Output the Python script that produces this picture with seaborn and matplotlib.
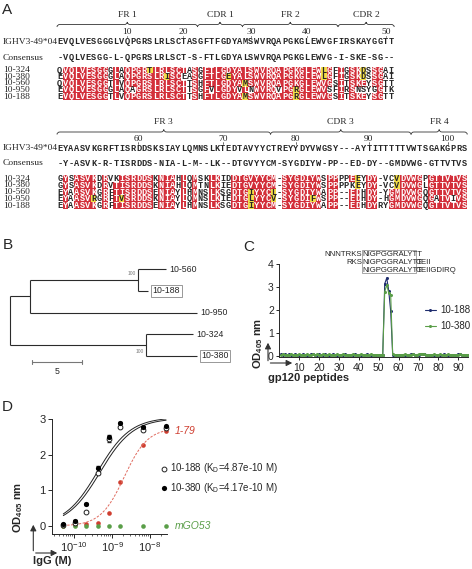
import numpy as np
import pandas as pd
import matplotlib
matplotlib.use('Agg')
import matplotlib.pyplot as plt
import seaborn as sns
from matplotlib.colors import ListedColormap
from matplotlib.path import Path
from matplotlib.patches import PathPatch, Rectangle

sns.set_style('ticks')
plt.rcParams['font.family'] = ['Liberation Sans', 'DejaVu Sans']
plt.rcParams['mathtext.default'] = 'regular'

# ---------------- data: panel A (alignment) ----------------
names = ['10-324', '10-380', '10-560', '10-950', '10-188']

germ1 = 'EVQLVESGGGLVQPGRSLRLSCTASGFTFGDYAMSWVRQAPGKGLEWVGFIRSKAYGGTT'
cons1 = '-VQLVESGG-L-QPGRSLRLSCT-S-FTLGDYALSWVRQAPGKGLEWVG-I-SKE-SG--'
seqs1 = ['QVQLVESGGGLAQPGRTLRLSCTASGFTLGDYALSWVRQAPGKGLEWLGFIGSKDSSGAI',
         'EVQLVESGGGLAQPGRSLRISCEASGFTLGEYALSWVRQAPGKGLEWLGFIGSKDSSGAI',
         'QVQLVESGGTLVQPGRSLRLSCTTSHFTLGDYAMSWVRQAPGKGLEWVGSITSKEYSGTT',
         'EVQLVESGGGLAQAGRSLRLSCTTSGFVLGDYVLNWVRQVPGRGLEWVSFIRSNSYGGTK',
         'EVQLVESGGTLVQPGRSLRLSCTTSHFTLGDYAMSWVRQAPGRGLEWVGSITSKEYSGTT']
yellow1 = {0: [17, 48, 55], 1: [20, 31, 48, 55], 2: [34], 3: [43], 4: [34, 43]}
ticks1 = [(10, 13), (20, 23), (30, 35), (40, 45), (50, 59)]
regions1 = [('FR 1', 1, 25), ('CDR 1', 26, 33), ('FR 2', 34, 50), ('CDR 2', 51, 60)]

germ2 = 'EYAASVKGRFTISRDDSKSIAYLQMNSLKTEDTAVYYCTREYYDYVWGSY---AYTITTTTTVWTSGAKGPRS'
cons2 = '-Y-ASVK-R-TISRDDS-NIA-L-M--LK--DTGVYYCM-SYGDIYW-PP--ED-DY--GMDVWG-GTTVTVS'
seqs2 = ['GYSASVKDRVKISRDDSKNIAHLQMSKLKIDDTGVYYCM-SYGDIYWSPPPPEEYDY-VCVDVWGPGTTVTVS',
         'GYSASVKDRVTISRDDSKNIAHLQMTNLKIEDTGVYYCM-SYGDIYWSPPPPKEYDY-VCVDVWGLGTTVTVS',
         'EYAASVKGRFTISRDDSENIAYLHMNSLKSGDTGIYYCL-SYGDIYWAPP--EDHDY-YGMDVWGQGTTVTVS',
         'EYAASVRGRFTVSRDDSKNIAYLQMNSLKIEDTGLYYCV-SYGDIFWSPP--EDHDY-HGMDVWGQGATVIVS',
         'EYAASVKGRFTISRDDSENIAYLHMNSLKSGDTGIYYCM-SYGDIYWAPP--EDHDYRYGMDVWGQGTTVTVS']
yellow2 = {0: [54, 61], 1: [54, 61], 2: [35, 39], 3: [7, 12, 35, 39, 46], 4: [35]}
ticks2 = [(60, 15), (70, 30), (80, 43), (90, 56), (100, 70)]
regions2 = [('FR 3', 1, 38), ('CDR 3', 39, 63), ('FR 4', 64, 73)]

# ---------------- data: panel B (tree) ----------------
leaf_order = ['10-560', '10-188', '10-950', '10-324', '10-380']
boxed = ['10-188', '10-380']
# internal node = (branch length, children, bootstrap); leaf = (name, branch length)
tree = (0.0, [(2.0, [(11.0, [('10-560', 2.8), ('10-188', 1.0)], (100, 'top')),
                     ('10-950', 16.9)], None),
              (13.8, [('10-324', 4.75), ('10-380', 5.1)], (100, 'bottom'))], None)
scale_len = 5

# ---------------- data: panel C (peptide ELISA) ----------------
peptides = list(range(1, 96))
od_188 = [0.06, 0.05, 0.06, 0.05, 0.06, 0.05, 0.05, 0.06, 0.05, 0.05,
          0.05, 0.06, 0.05, 0.05, 0.05, 0.06, 0.07, 0.05, 0.05, 0.06,
          0.05, 0.05, 0.06, 0.05, 0.05, 0.05, 0.06, 0.05, 0.05, 0.05,
          0.05, 0.05, 0.06, 0.05, 0.05, 0.05, 0.05, 0.06, 0.05, 0.05,
          0.05, 0.05, 0.05, 0.06, 0.05, 0.05, 0.05, 0.05, 0.05, 0.05,
          0.05, 0.05, 3.15, 3.40, 2.85, 1.95, 0.05, 0.04, 0.05, 0.05,
          0.05, 0.05, 0.05, 0.05, 0.05, 0.06, 0.09, 0.05, 0.05, 0.05,
          0.06, 0.08, 0.09, 0.05, 0.05, 0.05, 0.05, 0.05, 0.05, 0.05,
          0.05, 0.05, 0.06, 0.05, 0.05, 0.05, 0.05, 0.05, 0.05, 0.06,
          0.07, 0.05, 0.05, 0.05, 0.05]
od_380 = [0.05, 0.06, 0.05, 0.05, 0.05, 0.06, 0.05, 0.05, 0.05, 0.06,
          0.05, 0.05, 0.05, 0.06, 0.05, 0.05, 0.06, 0.05, 0.06, 0.05,
          0.05, 0.06, 0.05, 0.05, 0.06, 0.05, 0.05, 0.05, 0.06, 0.05,
          0.05, 0.06, 0.05, 0.05, 0.05, 0.05, 0.06, 0.05, 0.05, 0.05,
          0.06, 0.05, 0.05, 0.05, 0.05, 0.06, 0.05, 0.05, 0.05, 0.05,
          0.05, 0.05, 2.80, 3.10, 2.75, 2.65, 0.08, 0.05, 0.05, 0.05,
          0.05, 0.05, 0.06, 0.05, 0.05, 0.05, 0.07, 0.05, 0.05, 0.06,
          0.07, 0.09, 0.08, 0.05, 0.05, 0.05, 0.05, 0.06, 0.05, 0.05,
          0.06, 0.05, 0.05, 0.05, 0.06, 0.05, 0.05, 0.05, 0.05, 0.05,
          0.06, 0.05, 0.05, 0.05, 0.05]
pep_lines = [('NNNTRKS', 'NIGPGGRALYTT', ''),
             ('RKS', 'NIGPGGRALYTT', 'GEII'),
             ('', 'NIGPGGRALYTT', 'GEIIGDIRQ')]

# ---------------- data: panel D (binding curves) ----------------
conc = [5.2e-11, 1.04e-10, 2.08e-10, 4.17e-10, 8.33e-10, 1.67e-9, 6.67e-9, 2.67e-8]
od_d188 = [0.03, 0.07, 0.40, 1.48, 2.43, 2.77, 2.69, 2.76]
err_d188 = [0.0, 0.0, 0.02, 0.03, 0.07, 0.03, 0.03, 0.02]
od_d380 = [0.05, 0.15, 0.62, 1.64, 2.50, 2.88, 2.77, 2.79]
err_d380 = [0.0, 0.02, 0.02, 0.03, 0.05, 0.03, 0.02, 0.02]
od_179 = [0.01, 0.02, 0.05, 0.09, 0.36, 1.24, 2.27, 2.67]
od_mgo53 = [0.0, 0.0, 0.0, 0.0, 0.01, 0.0, 0.0, 0.0]
kd_188, bmax_188 = 4.87e-10, 3.02
kd_380, bmax_380 = 4.17e-10, 3.05
k_179, bmax_179, hill_179 = 2.1e-9, 2.75, 1.4

RED = '#d32f3a'
YELLOW = '#f2dc48'
BLUE = '#1f2d6e'
GREEN = '#5a9e48'
DRED = '#cf3e30'

W, H = 472, 569
fig = plt.figure(figsize=(W / 100, H / 100), dpi=100)


def add_px_axes(l, t, r, b):
    return fig.add_axes([l / W, 1 - b / H, (r - l) / W, (b - t) / H])


ax0 = add_px_axes(0, 0, W, H)
ax0.set_xlim(0, W)
ax0.set_ylim(H, 0)
ax0.axis('off')

# panel letters
for lab, x, y in [('A', 2, 10), ('B', 3, 245), ('C', 243, 247), ('D', 2, 407)]:
    ax0.text(x, y, lab, fontsize=11, ha='left', va='center')

# ---------------- panel A ----------------
X0, CW = 57, 5.62
mono = dict(fontsize=6.2, family='Liberation Mono', weight='bold')
serif = dict(family='Liberation Serif', fontsize=6.8)
blocks = [(germ1, cons1, seqs1, yellow1, ticks1, regions1,
           dict(top=66.9, rh=6.6, germ=41.7, cons=57.7, num=32, brace=24.5, lab=15)),
          (germ2, cons2, seqs2, yellow2, ticks2, regions2,
           dict(top=175.1, rh=6.8, germ=148.3, cons=163.3, num=139, brace=132, lab=121.7))]
for germ, cons, seqs, yel, ticks, regs, g in blocks:
    n = len(germ)
    codes = np.zeros((len(seqs), n), dtype=int)
    for r, s in enumerate(seqs):
        for c, ch in enumerate(s):
            if c + 1 in yel.get(r, []):
                codes[r, c] = 2
            elif ch == cons[c] and ch != '-':
                codes[r, c] = 1
    annot = np.array([list(s) for s in seqs])
    axh = add_px_axes(X0, g['top'], X0 + n * CW, g['top'] + len(seqs) * g['rh'])
    sns.heatmap(codes, ax=axh, cmap=ListedColormap(['white', RED, YELLOW]),
                vmin=-0.5, vmax=2.5, cbar=False, annot=annot, fmt='',
                annot_kws=mono, xticklabels=False, yticklabels=False)
    axh.tick_params(length=0)
    for r, nm in enumerate(names):
        ax0.text(3, g['top'] + (r + 0.5) * g['rh'], nm, va='center', **serif)
    ax0.text(3, g['germ'], 'IGHV3-49*04', va='center', **serif)
    ax0.text(3, g['cons'], 'Consensus', va='center', **serif)
    for c in range(n):
        xc = X0 + (c + 0.5) * CW
        ax0.text(xc, g['germ'], germ[c], ha='center', va='center', **mono)
        ax0.text(xc, g['cons'], cons[c], ha='center', va='center', **mono)
    for num, col in ticks:
        xc = X0 + (col - 0.5) * CW
        ax0.text(xc, g['num'], str(num), ha='center', va='center', **serif)
        ax0.plot([xc, xc], [g['germ'] - 6, g['germ'] - 4.3], color='#333333', lw=0.5)
    for lab, c0, c1 in regs:
        xl, xr = X0 + (c0 - 1) * CW, X0 + c1 * CW
        xp, y = (xl + xr) / 2, g['brace']
        verts = [(xl, y + 2.5), (xl, y), (xl + 3, y), (xp - 3, y), (xp, y), (xp, y - 2.5),
                 (xp, y), (xp + 3, y), (xr - 3, y), (xr, y), (xr, y + 2.5)]
        codes_p = [Path.MOVETO, Path.CURVE3, Path.CURVE3, Path.LINETO, Path.CURVE3, Path.CURVE3,
                   Path.CURVE3, Path.CURVE3, Path.LINETO, Path.CURVE3, Path.CURVE3]
        ax0.add_patch(PathPatch(Path(verts, codes_p), fill=False, lw=0.6, color='#333333'))
        ax0.text(xp, g['lab'], lab, ha='center', va='center', **serif)

# ---------------- panel B ----------------
PXU = 9.88
axB = add_px_axes(0, 240, 240, 380)
axB.set_xlim(-10 / PXU, 230 / PXU)
axB.set_ylim((380 - 269.3) / 21.6, (240 - 269.3) / 21.6)
axB.axis('off')
narrow = dict(family=['Liberation Sans Narrow', 'Liberation Sans'], fontsize=6.3)
line_kw = dict(color='#2b2b2b', lw=0.8, solid_capstyle='butt')


def draw(node, x0):
    if isinstance(node[0], str):
        name, bl = node
        y = leaf_order.index(name)
        axB.plot([x0, x0 + bl], [y, y], **line_kw)
        if name in boxed:
            axB.text(x0 + bl + 0.45, y, name, va='center', ha='left',
                     bbox=dict(boxstyle='square,pad=0.15', fc='white', ec='#888888', lw=0.6), **narrow)
        else:
            axB.text(x0 + bl + 0.35, y, name, va='center', ha='left', **narrow)
        return y
    bl, kids, sup = node
    x1 = x0 + bl
    ys = [draw(k, x1) for k in kids]
    mid = (min(ys) + max(ys)) / 2
    axB.plot([x1, x1], [min(ys), max(ys)], **line_kw)
    if bl > 0:
        axB.plot([x0, x1], [mid, mid], **line_kw)
    if sup:
        val, where = sup
        yb = ys[0] + 0.2 if where == 'top' else ys[-1] - 0.2
        axB.text(x1 - 0.25, yb, str(val), ha='right', va='center', color='#777777',
                 family=['Liberation Sans Narrow', 'Liberation Sans'], fontsize=3.5)
    return mid


draw(tree, 0.0)
sb_x, sb_y = 2.26, 4.28
axB.plot([sb_x, sb_x + scale_len], [sb_y, sb_y], color='#777777', lw=0.8)
for xx in (sb_x, sb_x + scale_len):
    axB.plot([xx, xx], [sb_y - 0.1, sb_y + 0.1], color='#777777', lw=0.8)
axB.text(sb_x + scale_len / 2, sb_y + 0.47, str(scale_len), ha='center', va='center', **narrow)

# ---------------- panel C ----------------
axC = add_px_axes(279.4, 264.3, 468.2, 357.1)
dfC = pd.DataFrame({'peptide': peptides * 2, 'od': od_188 + od_380,
                    'mAb': ['10-188'] * len(peptides) + ['10-380'] * len(peptides)})
sns.lineplot(data=dfC, x='peptide', y='od', hue='mAb', palette={'10-188': BLUE, '10-380': GREEN},
             marker='o', markersize=2.2, markeredgewidth=0, linewidth=0.8, ax=axC)
axC.set_xlim(0, 95)
axC.set_ylim(-0.06, 4.0)
axC.set_xticks(range(10, 100, 10))
axC.set_yticks(range(0, 5))
axC.set_xlabel('')
axC.set_ylabel('')
axC.tick_params(labelsize=7.5, length=2.5, width=0.7, pad=1.5)
sns.despine(ax=axC)
for sp in axC.spines.values():
    sp.set_linewidth(0.7)
h, l = axC.get_legend_handles_labels()
axC.legend(h, l, loc='center left', bbox_to_anchor=(420 / W, 1 - 318 / H), bbox_transform=fig.transFigure,
           frameon=False, fontsize=7, handlelength=1.1, handletextpad=0.5, labelspacing=0.6, borderpad=0)
for i, (pre, core, post) in enumerate(pep_lines):
    y = [4.45, 4.09, 3.75][i]
    kw = dict(va='center', fontsize=5.6, family=['Liberation Sans Narrow', 'Liberation Sans'], clip_on=False)
    if pre:
        axC.text(41.6, y, pre, ha='right', **kw)
    axC.text(41.8, y, core, ha='left', **kw)
    if post:
        axC.text(68.5, y, post, ha='left', **kw)
axC.add_patch(Rectangle((41.4, 3.6), 27.2, 1.03, fill=False, ec='#999999', lw=0.6, clip_on=False))

ax0.text(258, 343, 'OD$_{405}$ nm', rotation=90, ha='center', va='center', fontsize=8, weight='bold')
ax0.text(268, 378, 'gp120 peptides', ha='left', va='center', fontsize=8, weight='bold')
arr = dict(arrowstyle='-|>,head_length=0.35,head_width=0.18', color='#333333', lw=0.8)
ax0.annotate('', xy=(268, 340), xytext=(268, 363.5), arrowprops=arr)
ax0.annotate('', xy=(295, 363), xytext=(267.6, 363), arrowprops=arr)

# ---------------- panel D ----------------
axD = add_px_axes(51.7, 419, 166.7, 534.3)
sns.lineplot(x=np.logspace(np.log10(conc[0]), np.log10(conc[-1]), 200),
             y=bmax_188 * np.logspace(np.log10(conc[0]), np.log10(conc[-1]), 200)
             / (kd_188 + np.logspace(np.log10(conc[0]), np.log10(conc[-1]), 200)),
             color='#222222', lw=0.7, ax=axD)
xf = np.logspace(np.log10(conc[0]), np.log10(conc[-1]), 200)
sns.lineplot(x=xf, y=bmax_380 * xf / (kd_380 + xf), color='#222222', lw=0.7, ax=axD)
sns.lineplot(x=xf, y=bmax_179 * xf ** hill_179 / (k_179 ** hill_179 + xf ** hill_179),
             color='#e06a5e', lw=0.7, ls=(0, (2.5, 1.5)), ax=axD)
axD.errorbar(conc, od_d188, yerr=err_d188, fmt='none', ecolor='#222222', elinewidth=0.6, capsize=1.2, clip_on=False)
axD.errorbar(conc, od_d380, yerr=err_d380, fmt='none', ecolor='#222222', elinewidth=0.6, capsize=1.2, clip_on=False)
sns.scatterplot(x=conc, y=od_179, color=DRED, s=11, linewidth=0, ax=axD, clip_on=False)
sns.scatterplot(x=conc, y=od_mgo53, color=GREEN, s=11, linewidth=0, ax=axD, clip_on=False)
sns.scatterplot(x=conc, y=od_d188, facecolor='white', edgecolor='#222222', s=12, linewidth=0.7,
                ax=axD, clip_on=False, label='10-188 (K$_D$=4.87e-10 M)', zorder=4)
sns.scatterplot(x=conc, y=od_d380, color='black', s=14, linewidth=0, ax=axD, clip_on=False,
                label='10-380 (K$_D$=4.17e-10 M)', zorder=5)
axD.set_xscale('log')
axD.set_xlim(2.57e-11, 2.77e-8)
axD.set_ylim(-0.233, 3.0)
axD.set_yticks([0, 1, 2, 3])
axD.tick_params(labelsize=8, length=3, width=0.7, pad=1.5)
axD.tick_params(which='minor', length=1.6, width=0.5)
sns.despine(ax=axD)
for sp in axD.spines.values():
    sp.set_linewidth(0.7)
h, l = axD.get_legend_handles_labels()
axD.legend(h, l, loc='center left', bbox_to_anchor=(156 / W, 1 - 478 / H), bbox_transform=fig.transFigure,
           frameon=False, fontsize=7, handlelength=0.6, handletextpad=0.3, labelspacing=0.6, borderpad=0)
ax0.text(175, 431, '1-79', color=DRED, style='italic', fontsize=7.5, va='center')
ax0.text(175, 526, 'mGO53', color=GREEN, style='italic', fontsize=7.5, va='center')
ax0.text(18, 507, 'OD$_{405}$ nm', rotation=90, ha='center', va='center', fontsize=8, weight='bold')
ax0.text(33, 561, 'IgG (M)', ha='left', va='center', fontsize=8, weight='bold')
ax0.annotate('', xy=(33.3, 522), xytext=(33.3, 553.5), arrowprops=arr)
ax0.annotate('', xy=(60, 553), xytext=(32.9, 553), arrowprops=arr)

fig.savefig('out.png', dpi=100)
